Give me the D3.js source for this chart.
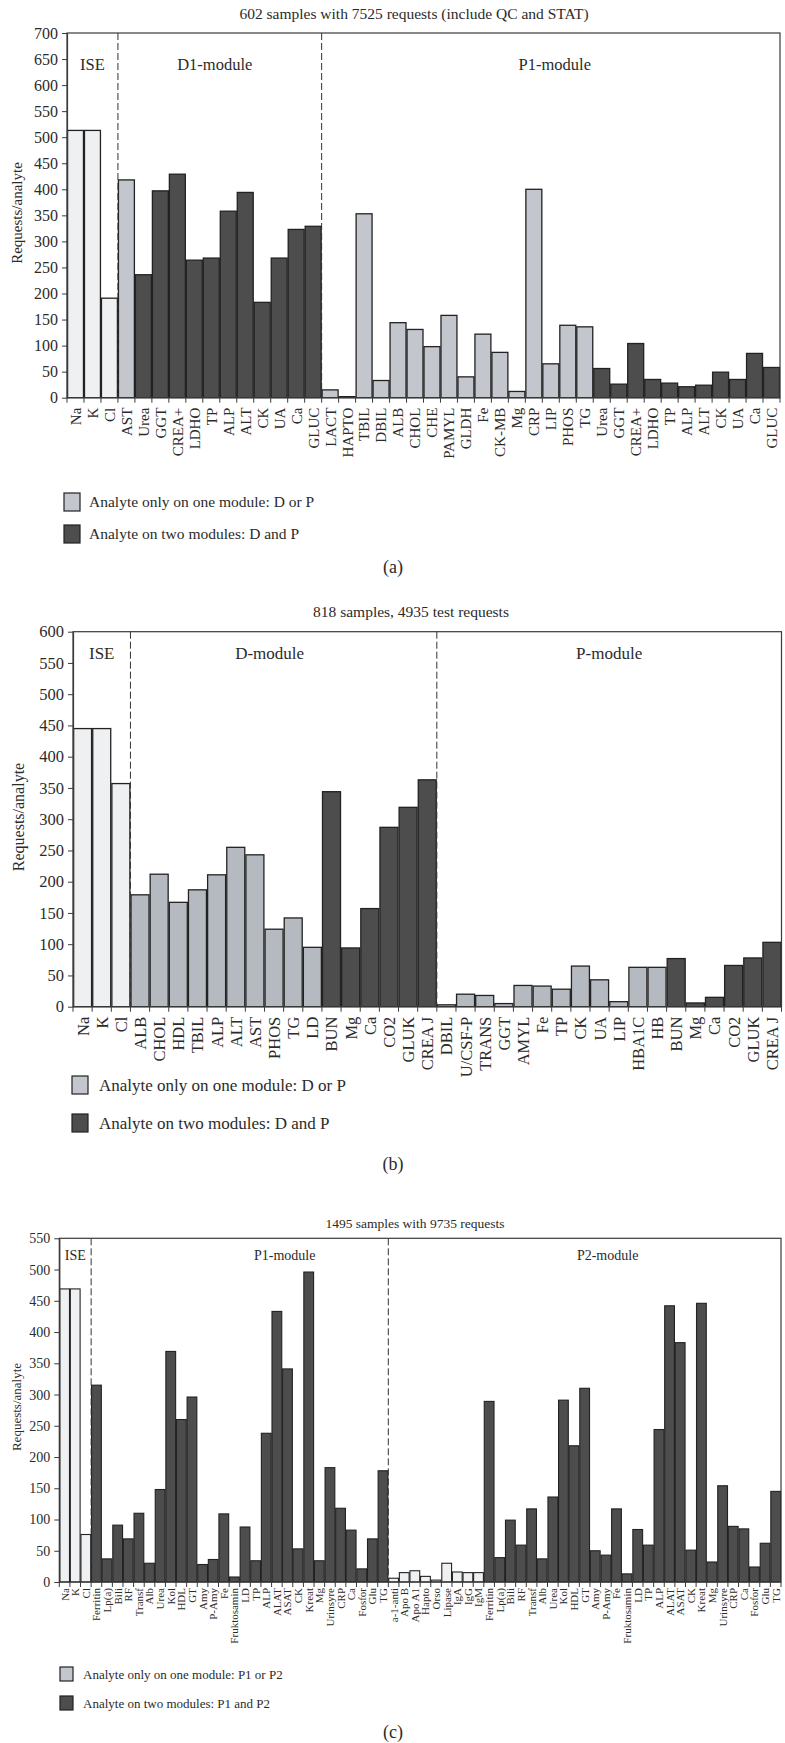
<!DOCTYPE html>
<html><head><meta charset="utf-8">
<script src="https://cdn.jsdelivr.net/npm/d3@7"></script>
<style>body{margin:0;background:#fff} svg{display:block}</style>
</head><body>
<svg id="chart" width="785" height="1743"></svg>
<script>
// ---------------- Panel (a) data ----------------
const titleA = "602 samples with 7525 requests (include QC and STAT)";
const catsA = ["Na","K","Cl","AST","Urea","GGT","CREA+","LDHO","TP","ALP","ALT","CK","UA","Ca","GLUC",
  "LACT","HAPTO","TBIL","DBIL","ALB","CHOL","CHE","PAMYL","GLDH","Fe","CK-MB","Mg","CRP","LIP","PHOS","TG",
  "Urea","GGT","CREA+","LDHO","TP","ALP","ALT","CK","UA","Ca","GLUC"];
const valsA = [513,513,191,418,236,397,429,264,268,358,394,183,268,323,329,
  15,2,353,33,144,131,98,158,40,122,87,12,400,65,139,136,
  56,26,104,35,28,21,24,49,35,85,58];
const typesA = ["ise","ise","ise","one","two","two","two","two","two","two","two","two","two","two","two",
  "one","one","one","one","one","one","one","one","one","one","one","one","one","one","one","one",
  "two","two","two","two","two","two","two","two","two","two","two"];
const modulesA = [{name:"ISE",from:0,to:3},{name:"D1-module",from:3,to:15},{name:"P1-module",from:15,to:42}];
const ticksA = [0,50,100,150,200,250,300,350,400,450,500,550,600,650,700];
const legendA = ["Analyte only on one module: D or P","Analyte on two modules: D and P"];

// ---------------- Panel (b) data ----------------
const titleB = "818 samples, 4935 test requests";
const catsB = ["Na","K","Cl","ALB","CHOL","HDL","TBIL","ALP","ALT","AST","PHOS","TG","LD","BUN","Mg","Ca","CO2","GLUK","CREA J",
  "DBIL","U/CSF-P","TRANS","GGT","AMYL","Fe","TP","CK","UA","LIP","HBA1C","HB","BUN","Mg","Ca","CO2","GLUK","CREA J"];
const valsB = [445,445,357,179,212,167,187,211,255,243,124,142,95,344,94,157,287,319,363,
  3,20,18,5,34,33,28,65,43,8,63,63,77,6,15,66,78,103];
const typesB = ["ise","ise","ise","one","one","one","one","one","one","one","one","one","one","two","two","two","two","two","two",
  "one","one","one","one","one","one","one","one","one","one","one","one","two","two","two","two","two","two"];
const modulesB = [{name:"ISE",from:0,to:3},{name:"D-module",from:3,to:19},{name:"P-module",from:19,to:37}];
const ticksB = [0,50,100,150,200,250,300,350,400,450,500,550,600];
const legendB = ["Analyte only on one module: D or P","Analyte on two modules: D and P"];

// ---------------- Panel (c) data ----------------
const titleC = "1495 samples with 9735 requests";
const catsC = ["Na","K","Cl",
  "Ferritin","Lp(a)","Bili","RF","Transf","Alb","Urea","Kol","HDL","GT","Amy","P-Amy","Fe","Fruktosamin","LD","TP","ALP","ALAT","ASAT","CK","Kreat","Mg","Urinsyre","CRP","Ca","Fosfor","Glu","TG",
  "a-1-anti","Apo B","Apo A1","Hapto","Orso","Lipase","IgA","IgG","IgM",
  "Ferritin","Lp(a)","Bili","RF","Transf","Alb","Urea","Kol","HDL","GT","Amy","P-Amy","Fe","Fruktosamin","LD","TP","ALP","ALAT","ASAT","CK","Kreat","Mg","Urinsyre","CRP","Ca","Fosfor","Glu","TG"];
const valsC = [469,469,76,
  315,37,91,69,110,30,148,369,260,296,28,36,109,8,88,34,238,433,341,53,496,34,183,118,83,21,69,178,
  6,15,18,9,3,30,16,15,15,
  289,39,99,59,117,37,136,291,218,310,50,43,117,13,84,59,244,442,383,51,446,32,154,89,85,24,62,145];
const typesC = ["ise","ise","ise",
  "two","two","two","two","two","two","two","two","two","two","two","two","two","two","two","two","two","two","two","two","two","two","two","two","two","two","two","two",
  "ise","ise","ise","ise","ise","ise","ise","ise","ise",
  "two","two","two","two","two","two","two","two","two","two","two","two","two","two","two","two","two","two","two","two","two","two","two","two","two","two","two","two"];
const modulesC = [{name:"ISE",from:0,to:3},{name:"P1-module",from:3,to:31},{name:"P2-module",from:31,to:68}];
const ticksC = [0,50,100,150,200,250,300,350,400,450,500,550];
const legendC = ["Analyte only on one module: P1 or P2","Analyte on two modules: P1 and P2"];

// ---------------- drawing ----------------
const FONT = "'Liberation Serif','Times New Roman',serif";
const svg = d3.select("#chart");
const INK = "#2b2b2b";

function panel(c){
  const g = svg.append("g").attr("font-family", FONT).attr("fill", INK);
  const x = d3.scaleBand().domain(d3.range(c.cats.length)).range([c.left, c.right])
      .paddingInner(c.pad).paddingOuter(c.pad/2);
  const y = d3.scaleLinear().domain([0, c.yMax]).range([c.bottom, c.top]);
  const step = x.step();
  const bound = i => x(0) - step*c.pad/2 + i*step;

  // title
  g.append("text").attr("x", c.titleX).attr("y", c.titleY).attr("text-anchor","middle")
    .attr("font-size", c.titleSize).text(c.title);

  // bars
  g.append("g").selectAll("rect").data(c.vals).join("rect")
    .attr("x",(d,i)=>x(i)).attr("width",x.bandwidth())
    .attr("y",d=>y(d)).attr("height",d=>y(0)-y(d))
    .attr("fill",(d,i)=>c.fills[c.types[i]])
    .attr("stroke","#222").attr("stroke-width",c.barStroke);

  // dashed module dividers
  c.modules.slice(1).forEach(m=>{
    g.append("line").attr("x1",bound(m.from)).attr("x2",bound(m.from))
      .attr("y1",y(c.yMax)).attr("y2",y(0))
      .attr("stroke","#333").attr("stroke-width",1).attr("stroke-dasharray","7,3");
  });
  // module labels
  c.modules.forEach((m,k)=>{
    g.append("text").attr("x",(bound(m.from)+bound(m.to))/2 + c.labelShift[k])
      .attr("y", y(c.yMax) + c.modLabelDy).attr("text-anchor","middle")
      .attr("font-size", c.modSize).text(m.name);
  });

  // frame
  g.append("rect").attr("x",c.left).attr("y",c.top).attr("width",c.right-c.left)
    .attr("height",c.bottom-c.top).attr("fill","none").attr("stroke","#3a3a3a").attr("stroke-width",1.2);

  // y axis
  const ya = g.append("g").attr("transform",`translate(${c.left},0)`)
    .call(d3.axisLeft(y).tickValues(c.ticks).tickSize(5).tickPadding(4).tickSizeOuter(0));
  ya.select(".domain").attr("stroke","#3a3a3a").attr("stroke-width",1.2);
  ya.selectAll(".tick line").attr("stroke","#3a3a3a");
  ya.selectAll("text").attr("font-family",FONT).attr("font-size",c.tickSize).attr("fill",INK);

  // x axis labels (rotated)
  const xa = g.append("g").attr("transform",`translate(0,${c.bottom})`)
    .call(d3.axisBottom(x).tickSize(0).tickFormat(i=>c.cats[i]));
  xa.select(".domain").remove();
  xa.selectAll("text").attr("font-family",FONT).attr("font-size",c.catSize).attr("fill",INK)
    .attr("transform","rotate(-90)").attr("text-anchor","end")
    .attr("x",-c.catOffset).attr("y",0).attr("dy","0.36em");
  // boundary ticks
  g.append("g").selectAll("line").data(d3.range(c.cats.length+1)).join("line")
    .attr("x1",i=>bound(i)).attr("x2",i=>bound(i)).attr("y1",c.bottom).attr("y2",c.bottom+5)
    .attr("stroke","#3a3a3a");

  // y label
  g.append("text").attr("transform",`translate(${c.ylabX},${c.ylabY}) rotate(-90)`)
    .attr("text-anchor","middle").attr("font-size",c.ylabSize).text("Requests/analyte");

  // legend
  c.legend.forEach((t,k)=>{
    const ly = c.legY[k];
    g.append("rect").attr("x",c.legX).attr("y",ly).attr("width",c.legW).attr("height",c.legH)
      .attr("fill", k===0 ? c.legFill0 : c.fills.two).attr("stroke","#222").attr("stroke-width",1.2);
    g.append("text").attr("x",c.legTextX).attr("y",ly + c.legH/2).attr("dy","0.35em")
      .attr("font-size",c.legSize).text(t);
  });
  g.append("text").attr("x",393).attr("y",c.subY).attr("text-anchor","middle")
    .attr("font-size",18).text(c.sub);
}

panel({title:titleA, cats:catsA, vals:valsA, types:typesA, modules:modulesA, ticks:ticksA, legend:legendA,
  left:67, right:780, top:33, bottom:397.7, yMax:700, pad:0.06, barStroke:1.3,
  fills:{ise:"#eff0f2", one:"#c3c6cc", two:"#4d4d4d"}, legFill0:"#c3c6cc",
  titleX:414, titleY:19, titleSize:15.5,
  labelShift:[0,-5,4], modLabelDy:37, modSize:16.5,
  tickSize:16, catSize:15, catOffset:10,
  ylabX:22, ylabY:213, ylabSize:15,
  legX:64, legY:[493,525], legW:16, legH:18, legTextX:89, legSize:15.5,
  sub:"(a)", subY:573});

panel({title:titleB, cats:catsB, vals:valsB, types:typesB, modules:modulesB, ticks:ticksB, legend:legendB,
  left:73, right:781.5, top:631.7, bottom:1006.7, yMax:600, pad:0.06, barStroke:1.3,
  fills:{ise:"#eff0f2", one:"#b5bac1", two:"#4d4d4d"}, legFill0:"#c3c6cc",
  titleX:411, titleY:617, titleSize:15.5,
  labelShift:[0,-14,0], modLabelDy:27, modSize:17,
  tickSize:16.5, catSize:16.5, catOffset:10,
  ylabX:24, ylabY:817, ylabSize:16,
  legX:72, legY:[1076,1114], legW:16, legH:18, legTextX:99, legSize:17,
  sub:"(b)", subY:1170});

panel({title:titleC, cats:catsC, vals:valsC, types:typesC, modules:modulesC, ticks:ticksC, legend:legendC,
  left:59.3, right:781, top:1238.3, bottom:1582, yMax:550, pad:0.08, barStroke:1.1,
  fills:{ise:"#eff0f2", one:"#eff0f2", two:"#4d4d4d"}, legFill0:"#c3c6cc",
  titleX:415, titleY:1228, titleSize:13.5,
  labelShift:[0,45,23], modLabelDy:22, modSize:14,
  tickSize:14, catSize:11, catOffset:6,
  ylabX:21, ylabY:1407, ylabSize:13,
  legX:60, legY:[1667,1696], legW:13, legH:14, legTextX:83, legSize:13,
  sub:"(c)", subY:1738});
</script>
</body></html>
